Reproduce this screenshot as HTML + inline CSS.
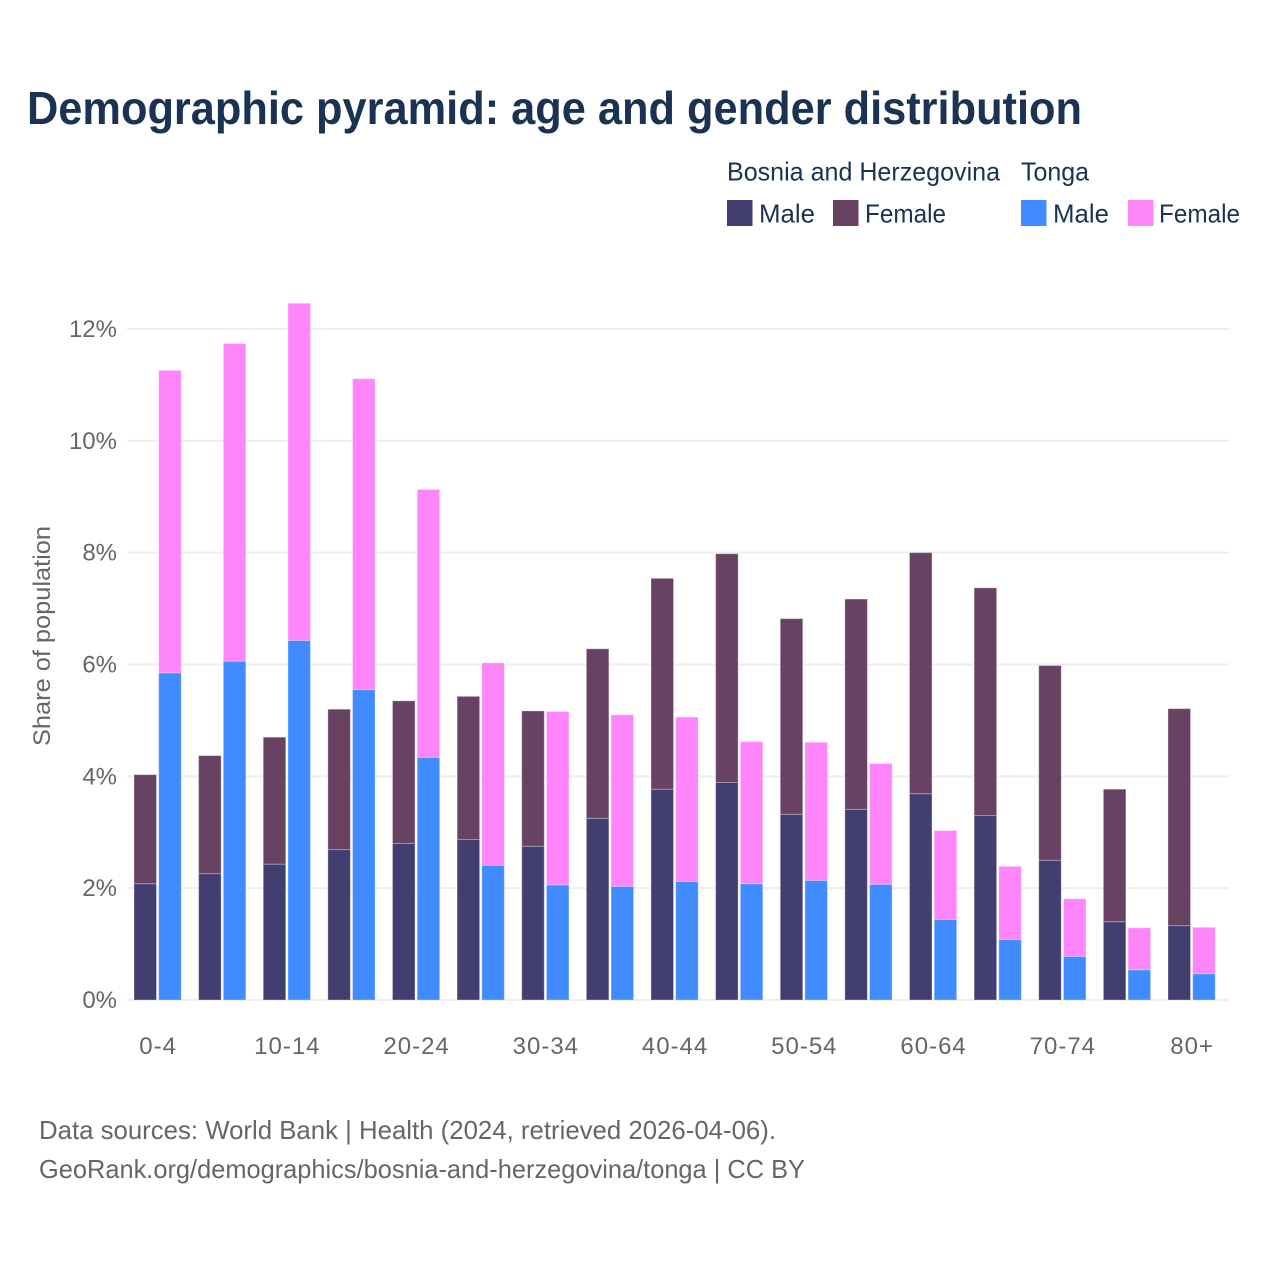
<!DOCTYPE html>
<html lang="en">
<head>
<meta charset="utf-8">
<title>Demographic pyramid: age and gender distribution</title>
<style>
  html, body { margin: 0; padding: 0; background: #ffffff; }
  svg { display: block; font-family: "Liberation Sans", "DejaVu Sans", sans-serif; }
</style>
</head>
<body>
<svg id="chart" xmlns="http://www.w3.org/2000/svg" width="1280" height="1280" viewBox="0 0 1280 1280">
  <rect x="0" y="0" width="1280" height="1280" fill="#ffffff"/>
  <text x="27" y="124" font-size="46" font-weight="700" fill="#1a3353" textLength="1055" lengthAdjust="spacingAndGlyphs">Demographic pyramid: age and gender distribution</text>

  <g font-size="26" fill="#1a3353">
    <text x="727" y="180.5" textLength="273" lengthAdjust="spacingAndGlyphs">Bosnia and Herzegovina</text>
    <text x="1021" y="180.5" textLength="68" lengthAdjust="spacingAndGlyphs">Tonga</text>
    <rect x="727" y="200" width="25.5" height="26" fill="#433e70"/>
    <text x="759" y="222.5" textLength="56" lengthAdjust="spacingAndGlyphs">Male</text>
    <rect x="833" y="200" width="25.5" height="26" fill="#684263"/>
    <text x="865" y="222.5" textLength="81" lengthAdjust="spacingAndGlyphs">Female</text>
    <rect x="1021" y="200" width="25.5" height="26" fill="#3f8bff"/>
    <text x="1053" y="222.5" textLength="56" lengthAdjust="spacingAndGlyphs">Male</text>
    <rect x="1128" y="200" width="25.5" height="26" fill="#ff85fb"/>
    <text x="1159" y="222.5" textLength="81" lengthAdjust="spacingAndGlyphs">Female</text>
  </g>

  <g id="grid"></g>
  <g id="bars"></g>
  <g id="y-labels"></g>
  <g id="x-labels"></g>

  <text transform="translate(50 636) rotate(-90)" text-anchor="middle" font-size="24" fill="#666666" textLength="220" lengthAdjust="spacingAndGlyphs">Share of population</text>

  <g font-size="26" fill="#666666">
    <text x="39" y="1139" textLength="737" lengthAdjust="spacingAndGlyphs">Data sources: World Bank | Health (2024, retrieved 2026-04-06).</text>
    <text x="39" y="1178" textLength="766" lengthAdjust="spacingAndGlyphs">GeoRank.org/demographics/bosnia-and-herzegovina/tonga | CC BY</text>
  </g>
</svg>
<script>
const categories = ["0-4","5-9","10-14","15-19","20-24","25-29","30-34","35-39","40-44","45-49","50-54","55-59","60-64","65-69","70-74","75-79","80+"];
const xTickLabels = ["0-4","","10-14","","20-24","","30-34","","40-44","","50-54","","60-64","","70-74","","80+"];
const yTicks = [0, 2, 4, 6, 8, 10, 12];
const bosniaMale = [2.08,2.26,2.43,2.69,2.80,2.87,2.75,3.25,3.77,3.89,3.32,3.41,3.69,3.30,2.50,1.40,1.33];
const bosniaFemale = [1.95,2.11,2.27,2.51,2.55,2.56,2.42,3.03,3.77,4.09,3.50,3.76,4.31,4.07,3.48,2.37,3.88];
const tongaMale = [5.85,6.06,6.43,5.55,4.34,2.41,2.06,2.03,2.12,2.08,2.14,2.07,1.44,1.08,0.78,0.54,0.47];
const tongaFemale = [5.41,5.68,6.03,5.56,4.79,3.62,3.10,3.07,2.94,2.54,2.47,2.16,1.59,1.31,1.03,0.75,0.83];

const NS = "http://www.w3.org/2000/svg";
const bandStep = 64.625;
const bandStart = 134;
const barWidth = 22.5;
const barGap = 24.7;
const yBase = 1000;
const yUnit = 55.92;
function yScale(v) { return yBase - v * yUnit; }
function xBand(i) { return bandStart + i * bandStep; }
function make(tag, attrs) {
  const el = document.createElementNS(NS, tag);
  for (const k in attrs) el.setAttribute(k, attrs[k]);
  return el;
}

const grid = document.getElementById("grid");
const yLabels = document.getElementById("y-labels");
yTicks.forEach(function (t) {
  const line = make("line", { x1: 127, x2: 1229, y1: yScale(t), y2: yScale(t), stroke: "#eeeeee", "stroke-width": 2 });
  
  
  grid.appendChild(line);
  const label = make("text", { x: 117, y: yScale(t) + 8, "text-anchor": "end", "font-size": 24, fill: "#666666" });
  
  
  label.textContent = t + "%";
  yLabels.appendChild(label);
});

function drawStack(parent, x, lower, upper, lowerColor, upperColor, lowerName, upperName) {
  const lowerRect = make("rect", { x: x, y: yScale(lower), width: barWidth, height: yBase - yScale(lower), fill: lowerColor, stroke: "rgba(255,255,255,0.3)", "stroke-width": 1 });
  
  
  parent.appendChild(lowerRect);
  const upperRect = make("rect", { x: x, y: yScale(lower + upper), width: barWidth, height: yScale(lower) - yScale(lower + upper), fill: upperColor, stroke: "rgba(255,255,255,0.3)", "stroke-width": 1 });
  
  
  parent.appendChild(upperRect);
}

const bars = document.getElementById("bars");
const xLabels = document.getElementById("x-labels");
categories.forEach(function (c, i) {
  const x = xBand(i);
  drawStack(bars, x, bosniaMale[i], bosniaFemale[i], "#433e70", "#684263", "bar-bosnia-male", "bar-bosnia-female");
  drawStack(bars, x + barGap, tongaMale[i], tongaFemale[i], "#3f8bff", "#ff85fb", "bar-tonga-male", "bar-tonga-female");
  if (xTickLabels[i]) {
    const label = make("text", { x: x + (barGap + barWidth) / 2 + 0.5, y: 1054, "text-anchor": "middle", "font-size": 24, "letter-spacing": 1, fill: "#666666" });
    
    
    label.textContent = xTickLabels[i];
    xLabels.appendChild(label);
  }
});
</script>
</body>
</html>
